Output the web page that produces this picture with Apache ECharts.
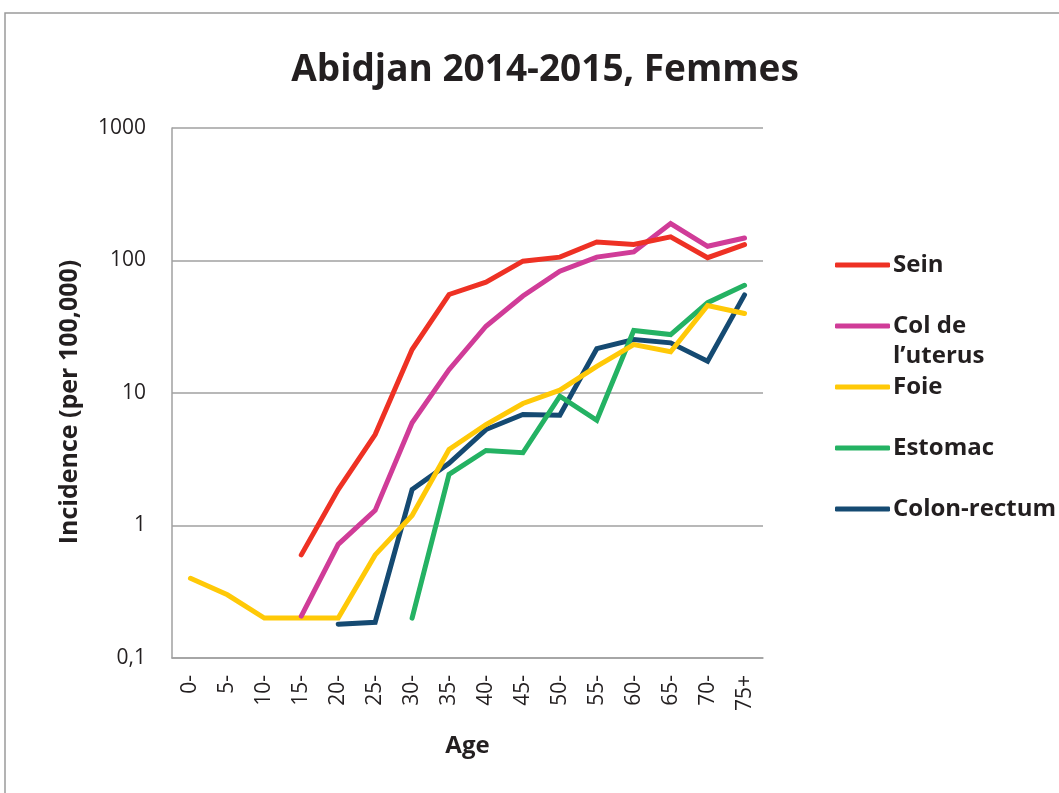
<!DOCTYPE html>
<html>
<head>
<meta charset="utf-8">
<script src="https://cdn.jsdelivr.net/npm/echarts@6/dist/echarts.min.js"></script>
<style>
html,body{margin:0;padding:0;background:#fff;}
#chart{width:1059px;height:793px;}
</style>
</head>
<body>
<div id="chart"></div>
<script>
var categories = ['0-','5-','10-','15-','20-','25-','30-','35-','40-','45-','50-','55-','60-','65-','70-','75+'];
var yTickLabels = {0.1:'0,1', 1:'1', 10:'10', 100:'100', 1000:'1000'};
var sein     = [null, null, null, 0.6, 1.87, 4.86, 21.3, 55.4, 68.6, 98.8, 106, 138, 132, 151, 105, 132];
var colUterus= [null, null, null, 0.207, 0.72, 1.30, 5.96, 15.0, 31.9, 54, 83, 106, 116, 190, 128, 148];
var foie     = [0.40, 0.30, 0.20, 0.20, 0.20, 0.60, 1.19, 3.75, 5.78, 8.33, 10.5, 15.9, 23.2, 20.5, 45.8, 39.8];
var estomac  = [null, null, null, null, null, null, 0.20, 2.43, 3.68, 3.54, 9.46, 6.23, 29.6, 27.6, 48, 65];
var colon    = [null, null, null, null, 0.18, 0.186, 1.87, 2.95, 5.3, 6.88, 6.8, 21.6, 25.3, 23.9, 17.4, 55];

var seriesNames = ['Sein','Col de','Foie','Estomac','Colon-rectum'];
var seriesData = [sein, colUterus, foie, estomac, colon];
var colors = ['#EE3124','#D03C98','#FFC907','#24B263','#154A72'];

var FONT = 'Open Sans';
var TXT = '#231F20';
var chart = echarts.init(document.getElementById('chart'), null, {renderer:'canvas'});

var series = seriesData.map(function(d, i){
  return {
    name: seriesNames[i],
    type: 'line',
    data: d,
    showSymbol: false,
    symbol: 'none',
    connectNulls: false,
    lineStyle: {width: 5, color: colors[i], cap: 'round', join: 'miter'},
    itemStyle: {color: colors[i]},
    z: 10 - i,
    emphasis: {disabled: true}
  };
});

chart.setOption({
  animation: false,
  color: colors,
  title: {
    text: 'Abidjan 2014-2015, Femmes',
    left: 540, top: 47, textAlign: 'center',
    textStyle: {fontFamily: FONT, fontSize: 37, fontWeight: 'bold', color: TXT}
  },
  graphic: [
    {type:'rect', shape:{x:5, y:13, width:1100, height:900}, style:{fill:'none', stroke:'#9a9a9a', lineWidth:1.5}, silent:true},
    {type:'text', left: 893, top: 344, style:{text:'l\u2019uterus', font:'bold 24px "Open Sans"', fill:TXT}}
  ],
  legend: {
    orient: 'vertical',
    left: 835, top: 250,
    padding: 0,
    itemWidth: 55, itemHeight: 5,
    itemGap: 31,
    icon: 'roundRect',
    data: seriesNames,
    textStyle: {fontFamily: FONT, fontSize: 24, fontWeight: 'bold', color: TXT, padding: [0,0,0,-2], lineHeight: 30, height: 30},
    selectedMode: false
  },
  grid: {left: 172, top: 128, right: 296, bottom: 135, containLabel: false},
  xAxis: {
    type: 'category',
    data: categories,
    boundaryGap: true,
    name: 'Age',
    nameLocation: 'middle',
    nameGap: 76,
    nameTextStyle: {fontFamily: FONT, fontSize: 24, fontWeight: 'bold', color: TXT},
    axisLine: {lineStyle: {color: '#a0a0a0', width: 1.5}},
    axisTick: {alignWithLabel: true, length: 7, lineStyle: {color: '#a0a0a0', width: 1.5}},
    axisLabel: {rotate: 90, margin: 17, fontFamily: FONT, fontSize: 21, color: TXT},
    splitLine: {show: false}
  },
  yAxis: {
    type: 'log',
    logBase: 10,
    min: 0.1, max: 1000,
    name: 'Incidence (per 100,000)',
    nameLocation: 'middle',
    nameGap: 90,
    nameRotate: 90,
    nameTextStyle: {fontFamily: FONT, fontSize: 25, fontWeight: 'bold', color: TXT, padding: [0,18,0,0]},
    axisLine: {show: true, lineStyle: {color: '#a0a0a0', width: 1.5}},
    axisTick: {show: false},
    axisLabel: {
      margin: 26, fontFamily: FONT, fontSize: 21, color: TXT,
      formatter: function(v){ var k = Math.round(v*10)/10; return yTickLabels[k] !== undefined ? yTickLabels[k] : ''; }
    },
    splitLine: {show: true, lineStyle: {color: '#a0a0a0', width: 1.5}}
  },
  series: series
});
</script>
</body>
</html>
